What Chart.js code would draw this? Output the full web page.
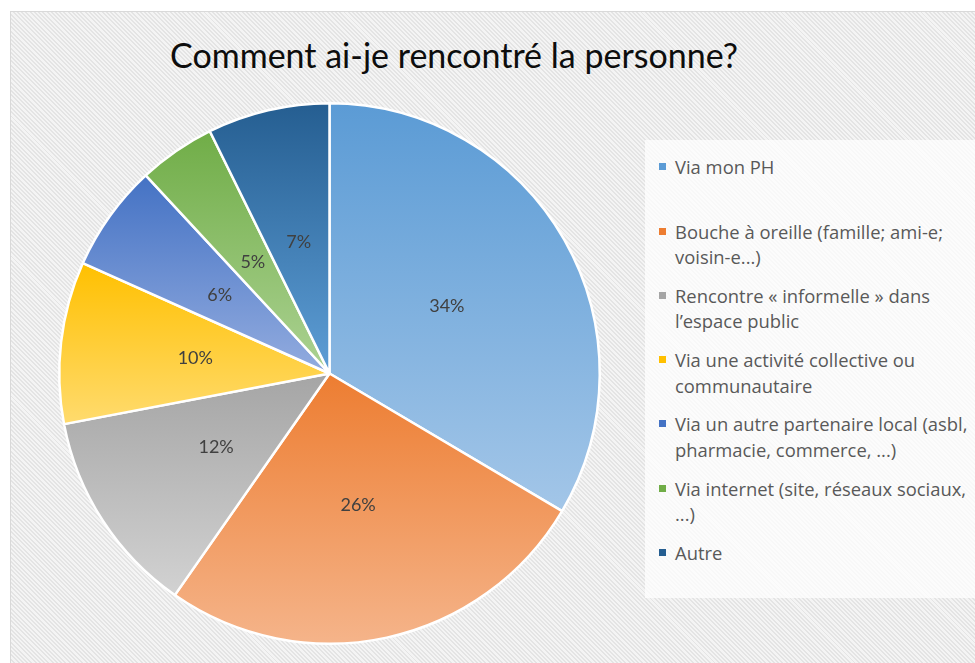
<!DOCTYPE html>
<html>
  <head>
    <meta charset="utf-8">
    <script src="https://cdn.jsdelivr.net/npm/chart.js@4.4.1/dist/chart.umd.min.js"></script>
    <style>
      html, body { margin: 0; padding: 0; background: #fff; overflow: hidden; }
      #frame {
        position: absolute; left: 10px; top: 11px; width: 990px; height: 680px;
        border: 1px solid #d9d9d9;
        background: repeating-linear-gradient(45deg, #f4f4f4 0px, #f4f4f4 1.6px, #e4e4e4 1.6px, #e4e4e4 3px);
      }
      #title {
        position: absolute; left: 0; top: 34px; width: 908px; text-align: center;
        font-family: Lato, "Open Sans", sans-serif; font-size: 34px; color: #0d0d0d;
      }
      #legendBox {
        position: absolute; left: 645px; top: 140px; width: 340px; height: 458px;
        background: rgba(255, 255, 255, 0.72);
      }
      .item {
        position: absolute; left: 675px; width: 300px; white-space: nowrap;
        font-family: "Open Sans", Lato, sans-serif; font-size: 18.4px; line-height: 25.5px; color: #595959;
      }
      .item i {
        position: absolute; left: -16px; top: 9px; width: 7px; height: 7px;
      }
      canvas { position: absolute; left: 0; top: 0; }
    </style>
  </head>
  <body>
    <div id="frame"></div>
    <div id="title">Comment ai-je rencontré la personne?</div>
    <div id="legendBox"></div>
    <div id="legend"></div>
    <canvas id="myChart" width="975" height="663"></canvas>

    <script>
      // data
      var labels = [
        "Via mon PH",
        "Bouche à oreille (famille; ami-e; voisin-e...)",
        "Rencontre « informelle » dans l’espace public",
        "Via une activité collective ou communautaire",
        "Via un autre partenaire local (asbl, pharmacie, commerce, ...)",
        "Via internet (site, réseaux sociaux, ...)",
        "Autre",
      ];
      // legend lines as wrapped in the picture
      var legendLines = [
        ["Via mon PH"],
        ["Bouche à oreille (famille; ami-e;", "voisin-e...)"],
        ["Rencontre « informelle » dans", "l’espace public"],
        ["Via une activité collective ou", "communautaire"],
        ["Via un autre partenaire local (asbl,", "pharmacie, commerce, ...)"],
        ["Via internet (site, réseaux sociaux,", "...)"],
        ["Autre"],
      ];
      // shares in % (labels show them rounded)
      var values = [33.5, 26.2, 12.3, 9.7, 6.4, 4.6, 7.3];
      var colorsTop = ["#5b9bd5", "#ed7d31", "#a5a5a5", "#ffc000", "#4472c4", "#70ad47", "#255e91"];
      var colorsBottom = ["#a3c6e8", "#f5b48a", "#d2d2d2", "#ffdb6e", "#93acdf", "#acd293", "#5e9ed6"];
      var BORDER = 2.5;

      // work out the slice's vertical extent so each slice gets its own gradient
      function sliceGradient(context) {
        var chart = context.chart;
        var area = chart.chartArea;
        var i = context.dataIndex;
        if (!area) return colorsTop[i];
        var cx = (area.left + area.right) / 2;
        var cy = (area.top + area.bottom) / 2;
        var r = (Math.min(area.width, area.height) - BORDER) / 2;
        var total = values.reduce(function (a, b) { return a + b; }, 0);
        var before = 0;
        for (var k = 0; k < i; k++) before += values[k];
        var a0 = -Math.PI / 2 + (before / total) * Math.PI * 2;
        var a1 = a0 + (values[i] / total) * Math.PI * 2;
        var ys = [cy, cy + r * Math.sin(a0), cy + r * Math.sin(a1)];
        [Math.PI / 2, Math.PI * 1.5, -Math.PI / 2].forEach(function (t) {
          if (t >= a0 && t <= a1) ys.push(cy + r * Math.sin(t));
        });
        var top = Math.min.apply(null, ys);
        var bottom = Math.max.apply(null, ys);
        var g = chart.ctx.createLinearGradient(0, top, 0, bottom);
        g.addColorStop(0, colorsTop[i]);
        g.addColorStop(1, colorsBottom[i]);
        return g;
      }

      // percentage labels inside slices
      var sliceLabels = {
        id: "sliceLabels",
        afterDatasetsDraw: function (chart) {
          var ctx = chart.ctx;
          var meta = chart.getDatasetMeta(0);
          ctx.save();
          ctx.font = '18px Lato, "Open Sans", sans-serif';
          ctx.fillStyle = "#404040";
          ctx.textAlign = "center";
          ctx.textBaseline = "middle";
          meta.data.forEach(function (arc, i) {
            var mid = (arc.startAngle + arc.endAngle) / 2;
            var d = arc.outerRadius * 0.5;
            ctx.fillText(Math.round(values[i]) + "%", arc.x + Math.cos(mid) * d, arc.y + Math.sin(mid) * d);
          });
          ctx.restore();
        },
      };

      var ctx = document.getElementById("myChart").getContext("2d");
      var myChart = new Chart(ctx, {
        type: "pie",
        data: {
          labels: labels,
          datasets: [
            {
              data: values,
              backgroundColor: sliceGradient,
              borderColor: "#ffffff",
              borderWidth: BORDER,
            },
          ],
        },
        options: {
          responsive: false,
          animation: false,
          layout: { padding: { left: 58, right: 374, top: 102, bottom: 18 } },
          plugins: {
            legend: { display: false },
            tooltip: { enabled: false },
          },
        },
        plugins: [sliceLabels],
      });

      // legend on the right, built from the same arrays
      var legend = document.getElementById("legend");
      legendLines.forEach(function (lines, i) {
        var div = document.createElement("div");
        div.className = "item";
        div.style.top = (167 - 12.75 + i * 64.3) + "px";
        div.innerHTML = '<i style="background:' + colorsTop[i] + '"></i>' + lines.join("<br>");
        legend.appendChild(div);
      });
    </script>
  </body>
</html>
